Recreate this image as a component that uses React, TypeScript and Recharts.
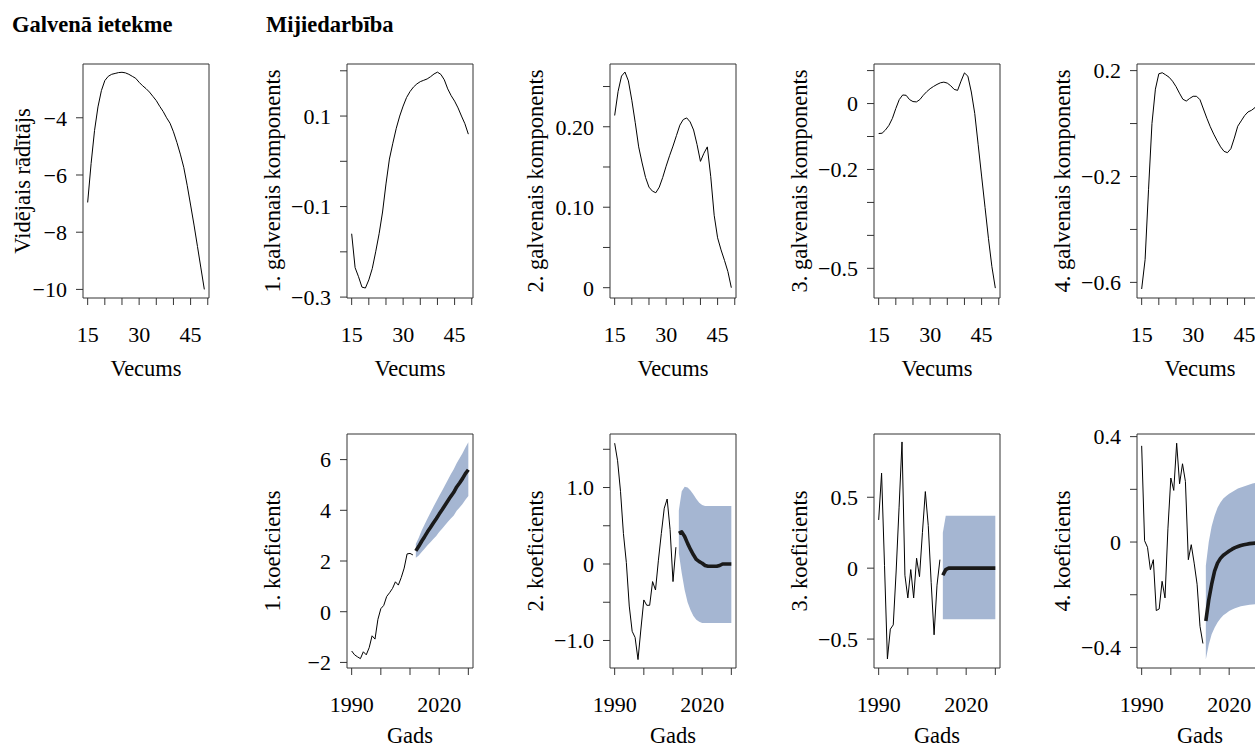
import React from "react";
import { ComposedChart, Line, Area, XAxis, YAxis, ReferenceArea } from "recharts";

// ---- data ----
const ages = [15, 16, 17, 18, 19, 20, 21, 22, 23, 24, 25, 26, 27, 28, 29, 30, 31, 32, 33, 34, 35, 36, 37, 38, 39, 40, 41, 42, 43, 44, 45, 46, 47, 48, 49];

const meanEffect = [-6.96, -5.6, -4.45, -3.62, -3.05, -2.7, -2.55, -2.48, -2.45, -2.42, -2.41, -2.43, -2.48, -2.55, -2.62, -2.76, -2.88, -2.98, -3.1, -3.25, -3.4, -3.6, -3.78, -4.0, -4.19, -4.49, -4.86, -5.27, -5.73, -6.36, -7.05, -7.75, -8.5, -9.25, -10.0];
const pc1 = [-0.16, -0.235, -0.255, -0.278, -0.28, -0.262, -0.237, -0.2, -0.16, -0.112, -0.05, 0.005, 0.04, 0.073, 0.1, 0.122, 0.141, 0.154, 0.164, 0.171, 0.176, 0.179, 0.182, 0.187, 0.193, 0.197, 0.192, 0.18, 0.16, 0.145, 0.133, 0.118, 0.1, 0.083, 0.06];
const pc2 = [0.214, 0.244, 0.263, 0.268, 0.257, 0.233, 0.205, 0.175, 0.155, 0.137, 0.125, 0.12, 0.118, 0.125, 0.137, 0.151, 0.164, 0.176, 0.189, 0.202, 0.209, 0.211, 0.206, 0.196, 0.178, 0.157, 0.167, 0.175, 0.138, 0.09, 0.062, 0.047, 0.034, 0.02, 0.0];
const pc3 = [-0.091, -0.09, -0.08, -0.066, -0.045, -0.015, 0.012, 0.026, 0.025, 0.012, 0.006, 0.005, 0.012, 0.025, 0.036, 0.045, 0.052, 0.058, 0.063, 0.065, 0.062, 0.054, 0.043, 0.04, 0.068, 0.093, 0.083, 0.035, -0.03, -0.125, -0.22, -0.315, -0.41, -0.495, -0.56];
const pc4 = [-0.625, -0.514, -0.25, 0.0, 0.13, 0.188, 0.192, 0.184, 0.175, 0.16, 0.14, 0.115, 0.092, 0.085, 0.095, 0.103, 0.103, 0.09, 0.055, 0.02, -0.012, -0.04, -0.065, -0.088, -0.105, -0.11, -0.095, -0.055, -0.01, 0.01, 0.03, 0.044, 0.05, 0.06, 0.075];

const obsYears = [1990, 1991, 1992, 1993, 1994, 1995, 1996, 1997, 1998, 1999, 2000, 2001, 2002, 2003, 2004, 2005, 2006, 2007, 2008, 2009, 2010, 2011];
const fcYears = [2012, 2013, 2014, 2015, 2016, 2017, 2018, 2019, 2020, 2021, 2022, 2023, 2024, 2025, 2026, 2027, 2028, 2029, 2030];

const coef1Obs = [-1.55, -1.7, -1.78, -1.85, -1.58, -1.7, -1.42, -0.95, -1.08, -0.3, 0.12, 0.25, 0.6, 0.75, 0.92, 1.18, 1.05, 1.35, 1.72, 2.28, 2.3, 2.24];
const coef1Fc = [2.4, 2.58, 2.78, 2.96, 3.15, 3.32, 3.5, 3.67, 3.85, 4.02, 4.2, 4.38, 4.55, 4.71, 4.92, 5.08, 5.25, 5.45, 5.6];
const coef1Lo = [2.13, 2.22, 2.36, 2.48, 2.62, 2.74, 2.87, 2.99, 3.14, 3.27, 3.41, 3.55, 3.68, 3.8, 3.98, 4.11, 4.25, 4.42, 4.56];
const coef1Hi = [2.67, 2.92, 3.2, 3.44, 3.68, 3.9, 4.13, 4.35, 4.56, 4.77, 4.99, 5.21, 5.42, 5.62, 5.86, 6.05, 6.25, 6.48, 6.68];

const coef2Obs = [1.58, 1.35, 0.95, 0.4, 0.02, -0.55, -0.88, -0.96, -1.25, -0.85, -0.47, -0.54, -0.54, -0.23, -0.34, 0.05, 0.4, 0.73, 0.85, 0.45, -0.23, 0.22];
const coef2Fc = [0.4, 0.42, 0.36, 0.27, 0.19, 0.12, 0.06, 0.03, 0.01, -0.02, -0.03, -0.03, -0.03, -0.03, -0.02, 0.0, 0.0, 0.0, 0.0];
const coef2Lo = [0.14, -0.12, -0.34, -0.5, -0.6, -0.68, -0.73, -0.755, -0.77, -0.77, -0.77, -0.77, -0.77, -0.77, -0.77, -0.77, -0.77, -0.77, -0.77];
const coef2Hi = [0.7, 0.95, 1.01, 1.0, 0.96, 0.91, 0.85, 0.8, 0.77, 0.76, 0.76, 0.76, 0.76, 0.76, 0.76, 0.76, 0.76, 0.76, 0.76];

const coef3Obs = [0.34, 0.67, 0.02, -0.64, -0.43, -0.4, -0.02, 0.43, 0.89, -0.05, -0.21, -0.01, -0.21, 0.07, -0.06, 0.25, 0.54, 0.3, -0.1, -0.47, -0.12, 0.06];
const coef3Fc = [-0.05, -0.01, 0.0, 0.0, 0.0, 0.0, 0.0, 0.0, 0.0, 0.0, 0.0, 0.0, 0.0, 0.0, 0.0, 0.0, 0.0, 0.0, 0.0];
const coef3Lo = [-0.36, -0.36, -0.36, -0.36, -0.36, -0.36, -0.36, -0.36, -0.36, -0.36, -0.36, -0.36, -0.36, -0.36, -0.36, -0.36, -0.36, -0.36, -0.36];
const coef3Hi = [0.25, 0.37, 0.37, 0.37, 0.37, 0.37, 0.37, 0.37, 0.37, 0.37, 0.37, 0.37, 0.37, 0.37, 0.37, 0.37, 0.37, 0.37, 0.37];

const coef4Obs = [0.365, 0.005, -0.02, -0.105, -0.067, -0.26, -0.254, -0.149, -0.212, 0.05, 0.243, 0.196, 0.375, 0.221, 0.297, 0.23, -0.067, -0.01, -0.08, -0.16, -0.32, -0.385];
const coef4Fc = [-0.3, -0.22, -0.16, -0.11, -0.08, -0.062, -0.05, -0.042, -0.034, -0.027, -0.021, -0.017, -0.013, -0.01, -0.008, -0.006, -0.005, -0.004, -0.003];
const coef4Lo = [-0.445, -0.39, -0.35, -0.325, -0.305, -0.29, -0.278, -0.27, -0.262, -0.256, -0.251, -0.247, -0.244, -0.242, -0.24, -0.238, -0.237, -0.236, -0.235];
const coef4Hi = [-0.09, 0.0, 0.06, 0.1, 0.13, 0.15, 0.165, 0.175, 0.183, 0.19, 0.197, 0.203, 0.207, 0.211, 0.215, 0.218, 0.222, 0.224, 0.226];

// ---- tick labels ----
const ageTicks = [15, 20, 25, 30, 35, 40, 45, 50];
const ageLabels: Record<string, string> = { "15": "15", "30": "30", "45": "45" };
const yearTicks = [1990, 2000, 2010, 2020, 2030];
const yearLabels: Record<string, string> = { "1990": "1990", "2020": "2020" };

// ---- layout ----
const INK = "#333";
const BAND = "#a5b6d2";
const FONT = '"Liberation Serif", "Times New Roman", serif';
const COL_LEFT = [83, 347, 610, 874, 1137];
const ROW_TOP = [64, 434];
const BOX_W = 126;
const BOX_H = 234;
const AXIS_W = 100;
const AXIS_H = 90;
const PAD_TOP = 10;
const PAD_RIGHT = 12;
const AGE_DOMAIN: [number, number] = [13.64, 50.36];
const YEAR_DOMAIN: [number, number] = [1988.4, 2031.6];

const tickStyle = { fill: "#000", fontSize: 22, fontFamily: FONT };
const titleStyle = { fill: "#000", fontSize: 22.5, fontFamily: FONT };

const ageRows = (vals: number[]) => ages.map((age, i) => ({ x: age, v: vals[i] }));

const yearRows = (obs: number[], fc: number[], lo: number[], hi: number[]) => [
  ...obsYears.map((y, i) => ({ x: y, obs: obs[i] })),
  ...fcYears.map((y, i) => ({ x: y, fc: fc[i], band: [lo[i], hi[i]] })),
];

function YTitle({ viewBox, text, gap }: any) {
  const x = viewBox.x + viewBox.width - gap;
  const y = viewBox.y + viewBox.height / 2;
  return (
    <text x={x} y={y} transform={`rotate(-90 ${x} ${y})`} textAnchor="middle" style={titleStyle}>
      {text}
    </text>
  );
}

function XTitle({ viewBox, text, drop }: any) {
  return (
    <text x={viewBox.x + viewBox.width / 2} y={viewBox.y + drop} textAnchor="middle" style={titleStyle}>
      {text}
    </text>
  );
}

function Panel(props: any) {
  const { col, row, data, xDomain, xTicks, xLabels, yDomain, yTicks, yLabels, yTitle, xTitle, yGap = 67, children } = props;
  const drop = row === 0 ? 78 : 75;
  return (
    <div style={{ position: "absolute", left: COL_LEFT[col] - AXIS_W, top: ROW_TOP[row] - PAD_TOP }}>
      <ComposedChart
        width={AXIS_W + BOX_W + PAD_RIGHT}
        height={PAD_TOP + BOX_H + AXIS_H}
        data={data}
        margin={{ top: PAD_TOP, right: PAD_RIGHT, bottom: 0, left: 0 }}
      >
        <XAxis
          dataKey="x"
          type="number"
          domain={xDomain}
          ticks={xTicks}
          interval={0}
          allowDataOverflow
          axisLine={false}
          tickLine={{ stroke: INK }}
          tickSize={7}
          tickMargin={21}
          height={AXIS_H}
          tick={tickStyle}
          tickFormatter={(v: number) => xLabels[String(v)] ?? ""}
          label={{ content: (p: any) => <XTitle viewBox={p.viewBox} text={xTitle} drop={drop} /> }}
        />
        <YAxis
          type="number"
          domain={yDomain}
          ticks={yTicks}
          interval={0}
          allowDataOverflow
          axisLine={false}
          tickLine={{ stroke: INK }}
          tickSize={7}
          tickMargin={9}
          width={AXIS_W}
          tick={tickStyle}
          tickFormatter={(v: number) => yLabels[String(v)] ?? ""}
          label={{ content: (p: any) => <YTitle viewBox={p.viewBox} text={yTitle} gap={yGap} /> }}
        />
        {children}
        <ReferenceArea
          x1={xDomain[0]}
          x2={xDomain[1]}
          y1={yDomain[0]}
          y2={yDomain[1]}
          fill="none"
          fillOpacity={0}
          stroke={INK}
          strokeWidth={1}
          ifOverflow="visible"
        />
      </ComposedChart>
    </div>
  );
}

const ageLine = (
  <Line dataKey="v" type="linear" stroke="#000" strokeWidth={1} dot={false} isAnimationActive={false} />
);

function forecastSeries() {
  return [
    <Area key="band" dataKey="band" type="linear" stroke="none" fill={BAND} fillOpacity={1} isAnimationActive={false} />,
    <Line key="obs" dataKey="obs" type="linear" stroke="#000" strokeWidth={1} dot={false} isAnimationActive={false} />,
    <Line key="fc" dataKey="fc" type="linear" stroke="#1a1a1a" strokeWidth={3.6} strokeLinejoin="round" dot={false} isAnimationActive={false} />,
  ];
}

export default function App() {
  return (
    <div style={{ position: "fixed", left: 0, top: 0, width: 1255, height: 747, overflow: "hidden", background: "#fff" }}>
      <svg width={1255} height={60} style={{ position: "absolute", left: 0, top: 0 }}>
        <text x={12} y={32} style={{ ...titleStyle, fontWeight: 700 }}>Galvenā ietekme</text>
        <text x={266} y={32} style={{ ...titleStyle, fontWeight: 700 }}>Mijiedarbība</text>
      </svg>

      <Panel col={0} row={0} data={ageRows(meanEffect)} xDomain={AGE_DOMAIN} xTicks={ageTicks} xLabels={ageLabels}
        yDomain={[-10.3, -2.12]} yTicks={[-10, -8, -6, -4]} yLabels={{ "-10": "−10", "-8": "−8", "-6": "−6", "-4": "−4" }}
        yTitle="Vidējais rādītājs" xTitle="Vecums" yGap={53}>
        {ageLine}
      </Panel>
      <Panel col={1} row={0} data={ageRows(pc1)} xDomain={AGE_DOMAIN} xTicks={ageTicks} xLabels={ageLabels}
        yDomain={[-0.302, 0.215]} yTicks={[-0.3, -0.2, -0.1, 0, 0.1, 0.2]} yLabels={{ "-0.3": "−0.3", "-0.1": "−0.1", "0.1": "0.1" }}
        yTitle="1. galvenais komponents" xTitle="Vecums">
        {ageLine}
      </Panel>
      <Panel col={2} row={0} data={ageRows(pc2)} xDomain={AGE_DOMAIN} xTicks={ageTicks} xLabels={ageLabels}
        yDomain={[-0.0128, 0.278]} yTicks={[0, 0.05, 0.1, 0.15, 0.2, 0.25]} yLabels={{ "0": "0", "0.1": "0.10", "0.2": "0.20" }}
        yTitle="2. galvenais komponents" xTitle="Vecums">
        {ageLine}
      </Panel>
      <Panel col={3} row={0} data={ageRows(pc3)} xDomain={AGE_DOMAIN} xTicks={ageTicks} xLabels={ageLabels}
        yDomain={[-0.59, 0.12]} yTicks={[-0.5, -0.4, -0.3, -0.2, -0.1, 0, 0.1]} yLabels={{ "-0.5": "−0.5", "-0.2": "−0.2", "0": "0" }}
        yTitle="3. galvenais komponents" xTitle="Vecums">
        {ageLine}
      </Panel>
      <Panel col={4} row={0} data={ageRows(pc4)} xDomain={AGE_DOMAIN} xTicks={ageTicks} xLabels={ageLabels}
        yDomain={[-0.659, 0.225]} yTicks={[-0.6, -0.4, -0.2, 0, 0.2]} yLabels={{ "-0.6": "−0.6", "-0.2": "−0.2", "0.2": "0.2" }}
        yTitle="4. galvenais komponents" xTitle="Vecums">
        {ageLine}
      </Panel>

      <Panel col={1} row={1} data={yearRows(coef1Obs, coef1Fc, coef1Lo, coef1Hi)} xDomain={YEAR_DOMAIN} xTicks={yearTicks} xLabels={yearLabels}
        yDomain={[-2.22, 7.01]} yTicks={[-2, 0, 2, 4, 6]} yLabels={{ "-2": "−2", "0": "0", "2": "2", "4": "4", "6": "6" }}
        yTitle="1. koeficients" xTitle="Gads">
        {forecastSeries()}
      </Panel>
      <Panel col={2} row={1} data={yearRows(coef2Obs, coef2Fc, coef2Lo, coef2Hi)} xDomain={YEAR_DOMAIN} xTicks={yearTicks} xLabels={yearLabels}
        yDomain={[-1.36, 1.7]} yTicks={[-1, -0.5, 0, 0.5, 1, 1.5]} yLabels={{ "-1": "−1.0", "0": "0", "1": "1.0" }}
        yTitle="2. koeficients" xTitle="Gads">
        {forecastSeries()}
      </Panel>
      <Panel col={3} row={1} data={yearRows(coef3Obs, coef3Fc, coef3Lo, coef3Hi)} xDomain={YEAR_DOMAIN} xTicks={yearTicks} xLabels={yearLabels}
        yDomain={[-0.704, 0.946]} yTicks={[-0.5, 0, 0.5]} yLabels={{ "-0.5": "−0.5", "0": "0", "0.5": "0.5" }}
        yTitle="3. koeficients" xTitle="Gads">
        {forecastSeries()}
      </Panel>
      <Panel col={4} row={1} data={yearRows(coef4Obs, coef4Fc, coef4Lo, coef4Hi)} xDomain={YEAR_DOMAIN} xTicks={yearTicks} xLabels={yearLabels}
        yDomain={[-0.478, 0.41]} yTicks={[-0.4, -0.2, 0, 0.2, 0.4]} yLabels={{ "-0.4": "−0.4", "0": "0", "0.4": "0.4" }}
        yTitle="4. koeficients" xTitle="Gads">
        {forecastSeries()}
      </Panel>
    </div>
  );
}
